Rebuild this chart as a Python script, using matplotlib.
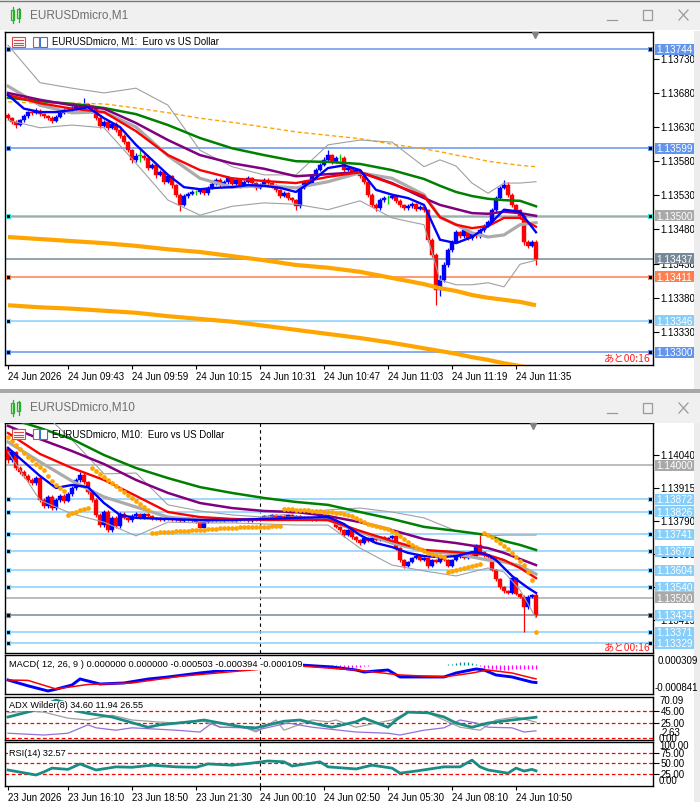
import numpy as np
import matplotlib
matplotlib.use("Agg")
import matplotlib.pyplot as plt
from matplotlib.patches import Rectangle
from matplotlib.lines import Line2D

plt.rcParams['font.family'] = ['Liberation Sans', 'DejaVu Sans']
JP = ['Noto Sans CJK JP', 'DejaVu Sans']

BASE = 1.13000
PT = 0.00001

# ======================= M1 chart data (points above 1.13000) =======================
m1_first_open_pts = 648
m1_close_pts = [643, 637, 633, 640, 646, 652, 651, 654, 649, 646,
                643, 639, 645, 651, 655, 654, 658, 661, 658, 664,
                661, 658, 643, 632, 637, 629, 635, 626, 617, 608,
                596, 582, 588, 588, 585, 570, 575, 560, 564, 550,
                558, 545, 531, 516, 529, 532, 535, 535, 538, 533,
                541, 547, 553, 545, 550, 555, 547, 553, 544, 550,
                555, 548, 541, 545, 553, 548, 544, 538, 529, 533,
                526, 523, 514, 541, 550, 547, 558, 567, 575, 582,
                589, 579, 585, 585, 567, 570, 564, 567, 558, 550,
                531, 516, 511, 523, 526, 526, 529, 522, 516, 511,
                514, 517, 510, 513, 508, 465, 443, 391, 406, 428,
                450, 462, 476, 470, 479, 467, 474, 470, 479, 485,
                491, 508, 526, 541, 545, 531, 516, 508, 500, 461,
                456, 462, 437]
m1_high_pts = [651, 645, 640, 642, 649, 654, 655, 658, 656, 651,
               648, 646, 648, 653, 658, 657, 661, 664, 663, 672,
               666, 663, 661, 646, 640, 639, 638, 637, 628, 620,
               610, 598, 592, 599, 590, 587, 578, 577, 567, 566,
               561, 560, 547, 533, 532, 535, 538, 538, 541, 540,
               544, 550, 556, 555, 553, 558, 557, 556, 555, 553,
               558, 557, 550, 548, 556, 555, 550, 546, 540, 536,
               535, 528, 525, 544, 553, 552, 561, 570, 578, 586,
               596, 591, 588, 590, 587, 573, 572, 570, 569, 560,
               552, 533, 519, 526, 529, 530, 532, 531, 524, 518,
               517, 520, 519, 516, 515, 510, 468, 445, 414, 432,
               453, 465, 479, 478, 482, 481, 477, 476, 482, 488,
               494, 511, 529, 544, 553, 550, 533, 518, 510, 502,
               464, 465, 465]
m1_low_pts = [640, 634, 629, 631, 638, 644, 648, 649, 646, 643,
              641, 636, 637, 643, 649, 651, 652, 655, 656, 656,
              659, 655, 640, 629, 630, 626, 627, 623, 614, 605,
              593, 578, 579, 579, 582, 567, 568, 556, 558, 547,
              548, 541, 528, 507, 514, 526, 530, 531, 532, 530,
              531, 539, 545, 542, 543, 547, 544, 545, 541, 542,
              548, 545, 538, 539, 543, 545, 541, 535, 526, 527,
              523, 520, 509, 511, 539, 544, 545, 556, 565, 573,
              580, 576, 577, 580, 564, 565, 561, 562, 555, 547,
              528, 513, 507, 509, 521, 518, 524, 519, 513, 508,
              509, 512, 507, 508, 505, 462, 440, 369, 383, 403,
              425, 447, 460, 467, 468, 464, 465, 467, 468, 477,
              483, 488, 505, 524, 539, 528, 513, 505, 496, 458,
              453, 454, 428]

m1_ma_idx = [0, 8, 16, 24, 32, 40, 48, 56, 64, 72, 80, 88, 96, 104, 108, 112, 116, 120, 124, 128, 132]
m1_red_pts = [677, 665, 657, 652, 624, 589, 567, 555, 551, 548, 557, 564, 547, 529, 498, 487, 482, 485, 497, 497, 484]
m1_mid_pts = [690, 662, 651, 652, 630, 588, 555, 542, 544, 541, 550, 563, 555, 531, 498, 487, 475, 469, 472, 487, 490]
m1_purple_pts = [680, 670, 662, 657, 636, 611, 589, 577, 569, 558, 561, 564, 548, 526, 516, 510, 504, 503, 506, 504, 500]
m1_green_pts = [673, 668, 664, 658, 649, 633, 614, 599, 589, 580, 579, 576, 567, 554, 544, 535, 529, 525, 523, 522, 514]
m1_dash_pts = [667, 665, 665, 664, 658, 651, 643, 637, 630, 623, 618, 613, 605, 598, 594, 589, 585, 580, 577, 574, 572]
m1_bbup_pts = [750, 695, 687, 680, 687, 662, 596, 572, 560, 560, 604, 611, 608, 572, 582, 573, 548, 533, 548, 548, 550]
m1_bblo_pts = [640, 629, 633, 629, 577, 523, 501, 514, 519, 517, 509, 522, 497, 487, 406, 399, 399, 402, 396, 429, 435]
m1_env_hi_pts = [469, 466, 463, 460, 456, 451, 447, 441, 435, 428, 424, 418, 409, 400, 394, 390, 384, 380, 377, 374, 369]
m1_env_lo_pts = [369, 366, 364, 361, 358, 353, 349, 345, 339, 333, 327, 321, 314, 306, 302, 298, 293, 289, 284, 280, 276]
m1_fast_idx = list(range(0, 133, 4))
m1_blue_pts = [677, 657, 652, 652, 655, 659, 643, 630, 604, 582, 560, 542, 539, 541, 542, 545, 544, 541,
               535, 551, 570, 574, 567, 538, 531, 526, 516, 465, 460, 469, 485, 509, 506, 476]

m1_time_idx = [0, 15, 31, 47, 63, 79, 95, 111, 127]
m1_time_labels = ['24 Jun 2026', '24 Jun 09:43', '24 Jun 09:59', '24 Jun 10:15', '24 Jun 10:31',
                  '24 Jun 10:47', '24 Jun 11:03', '24 Jun 11:19', '24 Jun 11:35']
m1_price_ticks = [1.13730, 1.13680, 1.13630, 1.13580, 1.13530, 1.13480, 1.13430, 1.13380, 1.13330]
m1_levels = [1.13744, 1.13599, 1.13500, 1.13437, 1.13411, 1.13346, 1.13300]
m1_level_colors = ['#6495ED', '#6495ED', '#40E0D0', '#778899', '#FF7F50', '#87CEFA', '#6495ED']
m1_box_colors = ['#6495ED', '#6495ED', '#A9A9A9', '#778899', '#FF7F50', '#87CEFA', '#6495ED']
m1_handles = [True, True, True, False, True, True, True]

# ======================= M10 chart data (points above 1.13000) =======================
m10_first_open_pts = 1060
m10_close_pts = [1020, 1050, 990, 975, 960, 945, 934, 952, 869, 847,
                 881, 839, 869, 885, 866, 892, 915, 945, 964, 937,
                 900, 869, 813, 775, 824, 756, 802, 771, 817, 802,
                 794, 809, 817, 802, 817, 809, 798, 802, 794, 798,
                 802, 794, 798, 790, 794, 802, 790, 786, 765, 786,
                 790, 794, 790, 790, 798, 794, 790, 794, 798, 794,
                 790, 798, 794, 802, 809, 805, 813, 802, 809, 802,
                 813, 805, 809, 802, 805, 798, 794, 802, 809, 798,
                 805, 794, 768, 756, 737, 756, 730, 718, 707, 726,
                 715, 726, 718, 730, 722, 726, 733, 688, 643, 621,
                 636, 651, 658, 643, 651, 621, 643, 636, 651, 643,
                 621, 643, 655, 658, 651, 662, 658, 700, 673, 662,
                 655, 605, 570, 540, 525, 520, 575, 515, 505, 466,
                 505, 511, 434]
m10_high_pts = [1070, 1058, 1056, 998, 983, 968, 953, 960, 958, 876,
                889, 888, 877, 893, 892, 900, 923, 953, 975, 970,
                942, 906, 876, 820, 832, 830, 810, 808, 825, 823,
                808, 815, 823, 822, 822, 822, 814, 807, 806, 802,
                806, 806, 803, 802, 798, 806, 806, 794, 790, 790,
                794, 798, 798, 794, 802, 802, 798, 798, 802, 802,
                798, 802, 802, 806, 813, 813, 817, 817, 813, 813,
                817, 817, 813, 813, 809, 809, 802, 806, 813, 813,
                809, 809, 798, 772, 760, 762, 760, 735, 722, 731,
                730, 731, 730, 735, 734, 731, 738, 738, 692, 648,
                641, 656, 664, 662, 656, 656, 648, 648, 656, 656,
                648, 648, 660, 664, 662, 666, 666, 705, 737, 678,
                666, 658, 610, 575, 545, 530, 580, 580, 520, 511,
                512, 516, 520]
m10_low_pts = [1010, 1012, 982, 966, 952, 936, 925, 926, 860, 838,
               840, 830, 832, 862, 858, 860, 886, 908, 938, 930,
               892, 860, 805, 766, 768, 748, 750, 763, 765, 796,
               788, 788, 803, 797, 797, 804, 793, 794, 790, 790,
               794, 790, 790, 786, 786, 790, 786, 782, 762, 762,
               782, 786, 786, 786, 786, 790, 786, 786, 790, 790,
               786, 786, 790, 790, 798, 801, 801, 798, 798, 798,
               798, 801, 801, 798, 798, 794, 790, 790, 798, 794,
               794, 790, 762, 750, 730, 732, 724, 712, 700, 703,
               710, 711, 713, 714, 717, 718, 722, 680, 635, 613,
               615, 630, 646, 638, 638, 613, 616, 630, 632, 638,
               615, 616, 638, 650, 646, 646, 653, 653, 668, 655,
               650, 600, 565, 535, 518, 514, 515, 510, 500, 372,
               460, 500, 428]
m10_sar_pts = [1107, 1092, 1077, 1062, 1047, 1032, 1020, 1005, 994, 983,
               960, 941, 926, 915, 903, 813, 820, 824, 832, 835,
               839, 990, 979, 968, 956, 945, 934, 922, 911, 900,
               888, 877, 866, 854, 843, 832, 745, 746, 747, 748,
               749, 750, 751, 752, 753, 754, 755, 756, 757, 758,
               759, 760, 761, 762, 763, 764, 765, 765, 766, 766,
               767, 767, 768, 768, 769, 769, 770, 771, 772, 836,
               835, 834, 833, 832, 831, 830, 829, 828, 827, 826,
               825, 824, 822, 819, 816, 812, 808, 802, 794, 786,
               779, 775, 771, 768, 764, 760, 753, 745, 734, 722,
               711, 700, 692, 685, 677, 670, 666, 662, 658, 654,
               598, 602, 606, 609, 613, 617, 621, 624, 628, 745,
               737, 730, 719, 707, 696, 685, 670, 655, 639, 624,
               598, 568, 372]

m10_ma_idx = [0, 8, 16, 24, 32, 40, 48, 56, 64, 72, 80, 88, 96, 104, 112, 120, 124, 128, 132]
m10_red_pts = [1122, 1043, 990, 945, 885, 824, 805, 798, 794, 794, 794, 753, 715, 681, 673, 662, 643, 613, 575]
m10_mid_pts = [1088, 1013, 941, 881, 843, 805, 794, 794, 798, 802, 794, 749, 707, 677, 666, 643, 636, 621, 590]
m10_purple_pts = [1149, 1099, 1054, 1005, 945, 896, 858, 839, 828, 824, 809, 786, 756, 722, 707, 688, 670, 647, 624]
m10_green_pts = [1179, 1141, 1099, 1039, 990, 952, 918, 896, 877, 862, 851, 824, 798, 768, 753, 737, 715, 700, 681]
m10_bbup_pts = [1247, 1209, 1096, 968, 971, 851, 828, 813, 805, 820, 832, 839, 824, 802, 753, 734, 737, 737, 737]
m10_bblo_pts = [1050, 869, 817, 786, 734, 786, 783, 783, 779, 775, 775, 688, 624, 602, 583, 613, 598, 530, 425]
m10_fast_idx = [0, 4, 8, 12, 16, 20, 24, 28, 32, 40, 48, 56, 64, 72, 80, 84, 88, 92, 96, 100, 104, 108,
                112, 116, 118, 120, 122, 124, 126, 128, 130, 132]
m10_blue_pts = [1066, 1013, 960, 915, 926, 918, 858, 813, 802, 798, 794, 794, 798, 802, 805, 779, 737, 707,
                692, 670, 658, 654, 658, 673, 670, 662, 643, 613, 583, 560, 538, 519]

m10_time_idx = [0, 15, 31, 47, 63, 79, 95, 111, 127]
m10_time_labels = ['23 Jun 2026', '23 Jun 16:10', '23 Jun 18:50', '23 Jun 21:30', '24 Jun 00:10',
                   '24 Jun 02:50', '24 Jun 05:30', '24 Jun 08:10', '24 Jun 10:50']
m10_separator_idx = 63
m10_price_ticks = [1.14040, 1.13915, 1.13790, 1.13665, 1.13540, 1.13415]
SKY = '#87CEFA'
m10_levels = [1.14000, 1.13872, 1.13826, 1.13741, 1.13677, 1.13604, 1.13540, 1.13500, 1.13434, 1.13371, 1.13329]
m10_level_colors = ['#A9A9A9', SKY, SKY, SKY, SKY, SKY, SKY, '#A9A9A9', '#778899', SKY, SKY]
m10_box_colors = ['#A9A9A9', SKY, SKY, SKY, SKY, SKY, SKY, '#A9A9A9', SKY, SKY, SKY]
m10_handles = [False, True, True, True, True, True, True, False, True, True, True]

# MACD(12,26,9)
macd_idx = [0, 5, 10, 12, 16, 18, 21, 23, 29, 35, 40, 48, 55, 60, 66, 73, 81, 87, 89, 95,
            98, 103, 109, 112, 117, 119, 122, 126, 131, 132]
macd_main = [-0.000428, -0.000600, -0.000752, -0.000700, -0.000575, -0.000398, -0.000487, -0.000546, -0.000516, -0.000400,
             -0.000339, -0.000220, -0.000133, -0.000103, -0.000044, 0.000015, -0.000044, -0.000133, -0.000192, -0.000133,
             -0.000339, -0.000339, -0.000339, -0.000221, -0.000103, -0.000133, -0.000280, -0.000339, -0.000490, -0.000503]
sig_idx = [0, 5, 12, 20, 31, 43, 58, 73, 87, 98, 109, 116, 120, 126, 131, 132]
macd_signal = [-0.000428, -0.000440, -0.000693, -0.000560, -0.000516, -0.000320, -0.000162, -0.000015,
               -0.000133, -0.000280, -0.000339, -0.000221, -0.000133, -0.000221, -0.000369, -0.000394]
hist_idx = [8, 9, 10, 11,
            75, 76, 77, 78, 79, 80, 81, 82, 83, 84, 85, 86, 87, 88, 89, 90,
            110, 111, 112, 113, 114, 115, 116, 117,
            118, 119, 120, 121, 122, 123, 124, 125, 126, 127, 128, 129, 130, 131, 132]
hist_vals = [-0.00004, -0.00006, -0.00006, -0.00004,
             -0.00002, -0.00003, -0.00004, -0.00005, -0.00006, -0.00007, -0.00008, -0.00009,
             -0.00009, -0.00008, -0.00007, -0.00006, -0.00005, -0.00004, -0.00003, -0.00002,
             0.00003, 0.00005, 0.00007, 0.00009, 0.00010, 0.00009, 0.00007, 0.00004,
             -0.00003, -0.00006, -0.00008, -0.00010, -0.00011, -0.00012, -0.00012, -0.00012,
             -0.00011, -0.00011, -0.00011, -0.00011, -0.00011, -0.00011, -0.000109]

# ADX Wilder(8)
adx_idx = [0, 3, 6, 9, 12, 15, 17, 20, 23, 26, 35, 38, 47, 49, 53, 59, 62, 69, 73, 78,
           81, 87, 89, 95, 97, 100, 105, 109, 112, 116, 120, 126, 132]
adx_vals = [35, 40, 45, 55, 63, 58, 45, 41, 38, 35, 18, 22, 28, 30, 25, 18, 17, 28, 30, 22,
            18, 27, 33, 18, 30, 43, 42, 35, 25, 18, 25, 30, 34.60]
mdi_idx = [0, 5, 9, 12, 15, 20, 26, 31, 37, 42, 48, 53, 59, 62, 67, 69, 76, 80, 82, 87,
           96, 100, 105, 109, 113, 118, 122, 127, 131, 132]
mdi_vals = [42, 45, 43, 38, 33, 30, 38, 30, 27, 25, 30, 18, 18, 10, 30, 13, 30, 27, 30, 18,
            30, 43, 42, 30, 18, 13, 30, 35, 28, 26.55]
pdi_idx = [0, 9, 15, 20, 22, 27, 31, 42, 48, 51, 53, 59, 62, 70, 76, 87, 95, 98, 104, 109,
           113, 117, 120, 126, 129, 132]
pdi_vals = [8, 5, 8, 22, 17, 13, 17, 13, 10, 25, 18, 17, 13, 25, 18, 10, 8, 5, 13, 17,
            30, 25, 18, 17, 10, 11.94]

# RSI(14)
rsi_idx = [0, 7, 9, 11, 15, 18, 22, 27, 31, 36, 42, 47, 50, 56, 61, 65, 69, 71, 76, 78,
           80, 87, 91, 96, 98, 102, 109, 113, 116, 118, 120, 125, 127, 129, 131, 132]
rsi_vals = [34.5, 22.6, 30, 39, 36, 49, 34.5, 42, 41, 46, 42, 41, 49, 46, 51, 56, 54, 44, 51, 54,
            42, 37, 46, 39, 27, 32, 42, 42, 58, 42, 34.5, 27, 39, 32, 36, 32.57]

# ======================= figure helpers =======================
W, H = 700, 802
fig = plt.figure(figsize=(W / 100, H / 100), dpi=100)
fig.patch.set_facecolor('white')


def fx(x):
    return x / W


def fy(y):
    return 1 - y / H


def to_price(pts):
    return BASE + np.asarray(pts, dtype=float) * PT


def add_ax(x0, y0, x1, y1):
    ax = fig.add_axes([x0 / W, 1 - y1 / H, (x1 - x0) / W, (y1 - y0) / H])
    ax.set_facecolor('white')
    for s in ax.spines.values():
        s.set_color('black')
        s.set_linewidth(1.0)
    ax.set_xlim(-0.75, 161.25)
    ax.set_xticks([])
    ax.set_yticks([])
    return ax


def fig_rect(x0, y0, x1, y1, fc, ec='none', lw=0.0, z=1):
    fig.add_artist(Rectangle((fx(x0), fy(y1)), (x1 - x0) / W, (y1 - y0) / H,
                             transform=fig.transFigure, facecolor=fc, edgecolor=ec, linewidth=lw, zorder=z))


def fig_line(xs, ys, color, lw=1.0, z=3):
    fig.add_artist(Line2D([fx(x) for x in xs], [fy(y) for y in ys], transform=fig.transFigure,
                          color=color, lw=lw, zorder=z))


def draw_candles(ax, o, h, l, c):
    x = np.arange(len(c))
    cols = np.where(c > o, '#0000FF', np.where(c < o, '#FF0000', '#00D000'))
    ax.vlines(x, l, h, colors=cols, lw=0.9, zorder=4)
    bottom = np.minimum(o, c)
    height = np.maximum(np.abs(c - o), 0.4 * PT)
    ax.bar(x, height, bottom=bottom, width=0.78, color=cols, edgecolor=cols, linewidth=0.3, zorder=4)


def price_axis(ax, ticks):
    ax.yaxis.tick_right()
    ax.set_yticks(ticks)
    ax.set_yticklabels([f'{t:.5f}' for t in ticks], fontsize=7)
    ax.tick_params(axis='y', length=4, width=0.8, pad=1.5, colors='black')


def time_axis(ax, idx, labels):
    ax.set_xticks(idx)
    ax.set_xticklabels(labels, fontsize=7, ha='left')
    ax.tick_params(axis='x', length=3, width=0.8, pad=2)


def price_box(ax, v, fc):
    ypix = ax.transData.transform((0, v))[1]
    fig.add_artist(Rectangle((fx(655), (ypix - 5.5) / H), 39 / W, 11 / H, transform=fig.transFigure,
                             facecolor=fc, edgecolor='none', zorder=20))
    fig.text(fx(674.5), ypix / H, f'{v:.5f}', color='white', fontsize=7.2, ha='center',
             va='center_baseline', zorder=21)


def levels(ax, vals, lcols, bcols, handles):
    for v, lc, bc, hd in zip(vals, lcols, bcols, handles):
        if lc == '#40E0D0':
            ax.axhline(v, color=lc, lw=1.8, zorder=2)
            ax.axhline(v, color='#A9A9A9', lw=0.6, zorder=2)
        else:
            ax.axhline(v, color=lc, lw=1.1, zorder=2)
        if hd:
            ax.plot([0, 160.5], [v, v], 's', ms=3.3, mfc='black', mec=lc, mew=0.8,
                    clip_on=False, zorder=9)
        price_box(ax, v, bc)


def window_bar(y0, title):
    fig_rect(0, y0, 700, y0 + 30, '#F0F0F0', z=1)
    fig.text(fx(30), fy(y0 + 15), title, fontsize=8.5, color='#6E6E6E', va='center', zorder=3)
    g = '#22B422'
    fig_line([12.5, 12.5], [y0 + 7, y0 + 23], g, 0.9)
    fig_rect(11, y0 + 10, 14, y0 + 20, 'none', ec=g, lw=0.9, z=3)
    fig_line([18.5, 18.5], [y0 + 8, y0 + 22], g, 0.9)
    fig_rect(17, y0 + 9, 20, y0 + 18, 'none', ec=g, lw=0.9, z=3)
    bc = '#9A9A9A'
    fig_line([607, 617], [y0 + 20, y0 + 20], bc, 0.9)
    fig_rect(643, y0 + 10, 652, y0 + 20, 'none', ec=bc, lw=0.9, z=3)
    fig_line([679, 688], [y0 + 10, y0 + 20], bc, 0.9)
    fig_line([679, 688], [y0 + 20, y0 + 10], bc, 0.9)


def chart_icons(y):
    r = '#E04848'
    b = '#3C78C8'
    fig_rect(12, y - 5, 25, y + 5, 'white', ec=r, lw=0.8, z=5)
    for dy in (-2, 0.5, 3):
        fig_line([14, 16], [y + dy, y + dy], r, 0.8, z=6)
        fig_line([17, 23], [y + dy, y + dy], r, 0.8, z=6)
    fig_rect(33, y - 5, 39, y + 5, 'white', ec=r, lw=0.8, z=5)
    fig_rect(40, y - 5, 47, y + 5, 'white', ec=b, lw=0.8, z=5)


# ======================= window chrome =======================
window_bar(0, 'EURUSDmicro,M1')
fig_line([0, 700], [0.5, 0.5], '#7A7A7A', 1.0)
fig_rect(0, 389, 700, 393, '#A8A8A8', z=1)
window_bar(393, 'EURUSDmicro,M10')
fig_rect(694, 31, 700, 389, '#ECECEC', z=1)
fig_rect(694, 423, 700, 802, '#ECECEC', z=1)

# ======================= top chart (M1) =======================
ax1 = add_ax(5, 32, 653, 365)
ax1.set_ylim(1.132815, 1.137693)
price_axis(ax1, m1_price_ticks)
time_axis(ax1, m1_time_idx, m1_time_labels)

levels(ax1, m1_levels, m1_level_colors, m1_box_colors, m1_handles)

o1 = to_price([m1_first_open_pts] + m1_close_pts[:-1])
draw_candles(ax1, o1, to_price(m1_high_pts), to_price(m1_low_pts), to_price(m1_close_pts))

ax1.plot(m1_ma_idx, to_price(m1_env_hi_pts), color='#FFA500', lw=3.0, zorder=5, solid_capstyle='butt')
ax1.plot(m1_ma_idx, to_price(m1_env_lo_pts), color='#FFA500', lw=3.0, zorder=5, solid_capstyle='butt')
ax1.plot(m1_ma_idx, to_price(m1_dash_pts), color='#FFA500', lw=1.0, ls=(0, (3, 2)), zorder=5)
ax1.plot(m1_ma_idx, to_price(m1_bbup_pts), color='#A0A0A0', lw=0.8, zorder=5)
ax1.plot(m1_ma_idx, to_price(m1_bblo_pts), color='#A0A0A0', lw=0.8, zorder=5)
ax1.plot(m1_ma_idx, to_price(m1_mid_pts), color='#ABABAB', lw=2.3, zorder=6)
ax1.plot(m1_ma_idx, to_price(m1_green_pts), color='#008000', lw=1.8, zorder=6)
ax1.plot(m1_ma_idx, to_price(m1_purple_pts), color='#800080', lw=1.8, zorder=6)
ax1.plot(m1_ma_idx, to_price(m1_red_pts), color='#FF0000', lw=1.7, zorder=7)
ax1.plot(m1_fast_idx, to_price(m1_blue_pts), color='#0000FF', lw=1.7, zorder=7)

chart_icons(42)
fig.text(fx(52), fy(42), 'EURUSDmicro, M1:  Euro vs US Dollar', fontsize=6.9, va='center', zorder=6)
fig.text(fx(651), fy(358), 'あと00:16', color='#FF2020', fontsize=7.5, ha='right', va='center',
         family=JP, zorder=8)
fig.add_artist(Line2D([fx(535)], [fy(34.5)], marker='v', ms=5, color='#808080',
                      transform=fig.transFigure, zorder=8))

# ======================= bottom chart (M10) =======================
ax2 = add_ax(5, 423, 653, 653)
ax2.set_ylim(1.132924, 1.141598)
price_axis(ax2, m10_price_ticks)
levels(ax2, m10_levels, m10_level_colors, m10_box_colors, m10_handles)

o2 = to_price([m10_first_open_pts] + m10_close_pts[:-1])
draw_candles(ax2, o2, to_price(m10_high_pts), to_price(m10_low_pts), to_price(m10_close_pts))

ax2.plot(m10_ma_idx, to_price(m10_bbup_pts), color='#A0A0A0', lw=0.8, zorder=5)
ax2.plot(m10_ma_idx, to_price(m10_bblo_pts), color='#A0A0A0', lw=0.8, zorder=5)
ax2.plot(m10_ma_idx, to_price(m10_mid_pts), color='#ABABAB', lw=2.3, zorder=6)
ax2.plot(m10_ma_idx, to_price(m10_green_pts), color='#008000', lw=1.8, zorder=6)
ax2.plot(m10_ma_idx, to_price(m10_purple_pts), color='#800080', lw=1.8, zorder=6)
ax2.plot(m10_ma_idx, to_price(m10_red_pts), color='#FF0000', lw=1.7, zorder=7)
ax2.plot(m10_fast_idx, to_price(m10_blue_pts), color='#0000FF', lw=1.7, zorder=7)
ax2.plot(np.arange(len(m10_sar_pts)), to_price(m10_sar_pts), 'o', color='#FFA500', ms=3.4,
         mec='none', zorder=8)

chart_icons(434)
fig.text(fx(52), fy(434), 'EURUSDmicro, M10:  Euro vs US Dollar', fontsize=6.9, va='center', zorder=6)
fig.text(fx(651), fy(647), 'あと00:16', color='#FF2020', fontsize=7.5, ha='right', va='center',
         family=JP, zorder=8)
fig.add_artist(Line2D([fx(533)], [fy(426)], marker='v', ms=5, color='#808080',
                      transform=fig.transFigure, zorder=8))

# ======================= MACD panel =======================
axm = add_ax(5, 655, 653, 694)
axm.set_ylim(-0.000841, 0.000309)
hcols = ['#FF00FF' if v < 0 else '#008B8B' for v in hist_vals]
axm.vlines(hist_idx, 0, hist_vals, colors=hcols, lw=0.9, zorder=3)
axm.plot(macd_idx, macd_main, color='#0000FF', lw=2.1, zorder=4)
axm.plot(sig_idx, macd_signal, color='#FF0000', lw=1.1, zorder=5)
fig.text(fx(9), fy(664.5), 'MACD( 12, 26, 9 ) 0.000000 0.000000 -0.000503 -0.000394 -0.000109',
         fontsize=6.7, va='center', zorder=6,
         bbox=dict(facecolor='white', edgecolor='none', pad=0.6))
fig.text(fx(658), fy(661), '0.000309', fontsize=7, va='center')
fig.text(fx(655), fy(688), '-0.000841', fontsize=7, va='center')

# ======================= ADX panel =======================
axa = add_ax(5, 697, 653, 740)
axa.set_ylim(-3.3, 68.3)
for lvl in (45, 25, 0):
    axa.axhline(lvl, color='#FF0000', lw=0.9, ls=(0, (3, 2)), zorder=2)
axa.plot(mdi_idx, mdi_vals, color='#A0A0A0', lw=0.9, zorder=3)
axa.plot(pdi_idx, pdi_vals, color='#9370DB', lw=0.9, zorder=3)
axa.plot(adx_idx, adx_vals, color='#1A8C84', lw=2.0, zorder=4)
axa.yaxis.tick_right()
axa.set_yticks([45, 25])
axa.set_yticklabels(['45.00', '25.00'], fontsize=7)
axa.tick_params(axis='y', length=4, width=0.8, pad=1.5)
fig.text(fx(9), fy(706), 'ADX Wilder(8) 34.60 11.94 26.55', fontsize=6.6, va='center', zorder=6,
         bbox=dict(facecolor='white', edgecolor='none', pad=0.4))
fig.text(fx(659), fy(701), '70.09', fontsize=7, va='center')
fig.text(fx(662), fy(733), '2.63', fontsize=7, va='center')
fig.text(fx(659), fy(738.5), '0.00', fontsize=7, va='center')

# ======================= RSI panel =======================
axr = add_ax(5, 742, 653, 786)
axr.set_ylim(-3.6, 101.2)
for lvl in (75, 50, 25):
    axr.axhline(lvl, color='#FF0000', lw=0.9, ls=(0, (3, 2)), zorder=2)
axr.plot(rsi_idx, rsi_vals, color='#1A8C84', lw=2.0, zorder=4)
axr.yaxis.tick_right()
axr.set_yticks([75, 50, 25])
axr.set_yticklabels(['75.00', '50.00', '25.00'], fontsize=7)
axr.tick_params(axis='y', length=4, width=0.8, pad=1.5)
fig.text(fx(9), fy(753), 'RSI(14) 32.57', fontsize=6.6, va='center', zorder=6,
         bbox=dict(facecolor='white', edgecolor='none', pad=0.4))
fig.text(fx(659), fy(746), '100.00', fontsize=7, va='center')
fig.text(fx(659), fy(780.5), '0.00', fontsize=7, va='center')
time_axis(axr, m10_time_idx, m10_time_labels)

for a in (ax2, axm, axa, axr):
    a.axvline(m10_separator_idx, color='black', lw=0.8, ls=(0, (3, 3)), zorder=1)

fig.savefig('out.png', dpi=100)
